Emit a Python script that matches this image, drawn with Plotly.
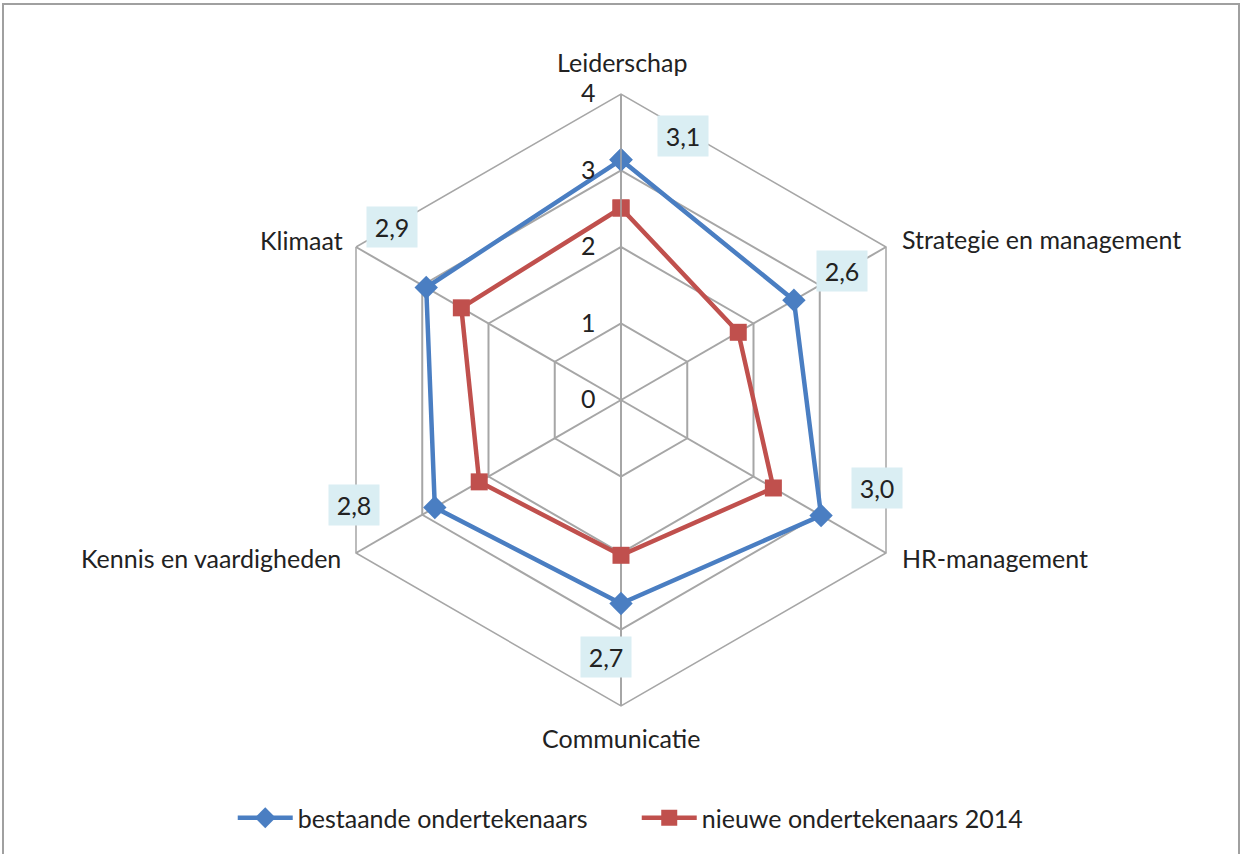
import plotly.graph_objects as go
import math

categories = ["Leiderschap", "Strategie en management", "HR-management",
              "Communicatie", "Kennis en vaardigheden", "Klimaat"]
bestaande = [3.14, 2.61, 3.02, 2.66, 2.81, 2.94]
nieuwe = [2.51, 1.77, 2.30, 2.03, 2.14, 2.41]
label_texts = ["3,1", "2,6", "3,0", "2,7", "2,8", "2,9"]
radial_ticks = [0, 1, 2, 3, 4]

# label offsets in pixels (style/position only)
label_shift = [(62, 24), (48, 29), (56, 28), (-15, -54), (-81, 2), (-34, 61)]
# category label placement (anchor, xshift, yshift)
cat_place = [("center", 1, 32), ("left", 14, 8), ("left", 14, -5),
             ("center", 0, -32), ("right", -13, -5), ("right", -11, 7)]

W, H = 1240, 854
CX, CY, R = 621, 400, 306
RMAX = 4

FONT = "Lato"
FS = 25
BLUE = "#4A7EC2"
RED = "#C0504D"
GRID = "#A6A6A6"
TXT = "#222222"

fig = go.Figure()
theta_closed = categories + [categories[0]]
fig.add_trace(go.Scatterpolar(
    r=bestaande + [bestaande[0]], theta=theta_closed, mode="lines+markers",
    name="bestaande ondertekenaars",
    line=dict(color=BLUE, width=4.5),
    marker=dict(symbol="diamond", size=18, color=BLUE),
))
fig.add_trace(go.Scatterpolar(
    r=nieuwe + [nieuwe[0]], theta=theta_closed, mode="lines+markers",
    name="nieuwe ondertekenaars 2014",
    line=dict(color=RED, width=4.5),
    marker=dict(symbol="square", size=17, color=RED),
))


def to_paper(r, i):
    ang = 2 * math.pi * i / len(categories)
    px = CX + r / RMAX * R * math.sin(ang)
    py = CY - r / RMAX * R * math.cos(ang)
    return px / W, 1 - py / H


annotations = []
for i, (v, t) in enumerate(zip(bestaande, label_texts)):
    x, y = to_paper(v, i)
    dx, dy = label_shift[i]
    annotations.append(dict(
        x=x, y=y, xref="paper", yref="paper",
        xanchor="center", yanchor="middle",
        text=t, showarrow=False, xshift=dx, yshift=dy,
        bgcolor="#DAEEF3", width=46, height=36, borderpad=2,
        font=dict(family=FONT, size=FS, color=TXT),
    ))
for i, c in enumerate(categories):
    x, y = to_paper(RMAX, i)
    anchor, dx, dy = cat_place[i]
    annotations.append(dict(
        x=x, y=y, xref="paper", yref="paper",
        xanchor=anchor, yanchor="middle",
        text=c, showarrow=False, xshift=dx, yshift=dy,
        font=dict(family=FONT, size=FS, color=TXT),
    ))

fig.update_layout(
    width=W, height=H,
    margin=dict(l=0, r=0, t=0, b=0),
    paper_bgcolor="white",
    font=dict(family=FONT, size=FS, color=TXT),
    polar=dict(
        domain=dict(x=[(CX - R) / W, (CX + R) / W], y=[1 - (CY + R) / H, 1 - (CY - R) / H]),
        gridshape="linear",
        bgcolor="white",
        angularaxis=dict(direction="clockwise", rotation=90,
                         gridcolor=GRID, gridwidth=1.5, linecolor=GRID, linewidth=1.5,
                         showline=True, ticks="", showticklabels=False),
        radialaxis=dict(range=[0, RMAX], tickvals=radial_ticks,
                        ticktext=[str(v) for v in radial_ticks],
                        angle=90, tickangle=90, side="counterclockwise",
                        gridcolor=GRID, gridwidth=1.5, linecolor=GRID, linewidth=1.5,
                        showline=True, ticks="outside", ticklen=16,
                        tickcolor="rgba(0,0,0,0)",
                        tickfont=dict(family=FONT, size=FS, color=TXT)),
    ),
    legend=dict(orientation="h", x=0.5135, xanchor="center", y=1 - 818 / H, yanchor="middle",
                itemwidth=55, entrywidth=334, font=dict(family=FONT, size=FS, color=TXT)),
    annotations=annotations,
    shapes=[dict(type="rect", xref="paper", yref="paper",
                 x0=3 / W, x1=1239 / W, y0=-0.05, y1=1 - 4 / H,
                 line=dict(color="#A0A0A0", width=2), fillcolor="rgba(0,0,0,0)")],
)

fig.write_html("out.html", config={"displayModeBar": False},
               post_script="document.body.style.margin='0';")
